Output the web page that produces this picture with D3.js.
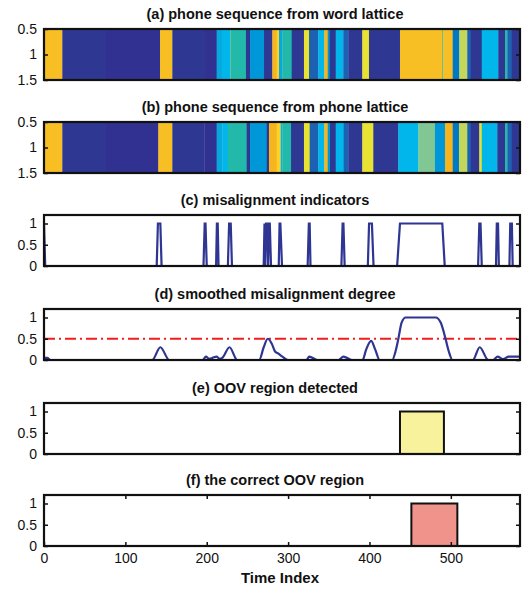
<!DOCTYPE html>
<html>
<head>
<meta charset="utf-8">
<script src="https://d3js.org/d3.v7.min.js"></script>
<style>
  html, body { margin: 0; padding: 0; background: #fff; }
  svg { display: block; font-family: "Liberation Sans", Arial, Helvetica, sans-serif; }
  .title { font-weight: bold; font-size: 14.5px; fill: #111; }
  .tick text { font-size: 14px; fill: #111; }
  .tick line { stroke: #111; stroke-width: 1.5; }
  .frame { fill: none; stroke: #111; stroke-width: 2.2; }
</style>
</head>
<body>
<svg id="chart" width="531" height="589"></svg>
<script>
/* OOV detection figure: two phone sequences, misalignment, smoothing, detection. */
(function () {
  "use strict";

  // ---- data (time index units) ----
  var T_MAX = 585;
  var timeTicks = [0, 100, 200, 300, 400, 500];

  // phone colour codes (parula-like)
  var phoneIds = ["DB", "DB2", "CY2", "CY", "TL", "MB", "Y", "YO", "OR", "YL", "BL2", "B3", "LM", "LG"];
  var phoneColors = ["#2e3893", "#303191", "#08a8dc", "#00b6ea", "#23b9aa", "#0097d8", "#f7bf24", "#fbd22c", "#f6b51f", "#e8e232", "#1d62b2", "#0078c6", "#c3d85a", "#80c794"];

  // (a) phone sequence from word lattice: boundaries + phone of each segment
  var wordBounds = [0, 22.5, 75, 142.6, 157.7, 197.9, 212.2, 218.4, 228.6, 229.4, 248.2, 253.2, 270.4, 280.6, 286.0, 288.8, 292.9, 304.4, 319.5, 325.7, 337.1, 344.5, 348.7, 351.1, 358.5, 367.8, 374.0, 391.2, 399.4, 437.5, 489.5, 490.4, 502.3, 510.4, 520.2, 524.4, 538.0, 558.3, 566.6, 569.4, 574.8, 585];
  var wordPhones = ["Y", "DB", "DB2", "Y", "DB", "DB2", "CY2", "CY", "LG", "TL", "DB", "MB", "DB", "OR", "YO", "CY2", "TL", "DB", "YL", "BL2", "CY", "OR", "MB", "DB", "CY", "BL2", "DB", "YL", "DB", "Y", "TL", "Y", "B3", "LM", "BL2", "DB", "CY", "DB", "TL", "BL2", "DB"];

  // (b) phone sequence from phone lattice
  var phoneBounds = [0, 22.5, 75, 140.5, 157.7, 197, 212.2, 219.1, 225.8, 249.1, 253.2, 273.7, 276.5, 286, 290.9, 292.9, 303.6, 319.5, 326.5, 337.1, 344.5, 348.7, 351.5, 358.5, 368.3, 374, 391.2, 404.7, 435.4, 460, 480.5, 492.8, 502.3, 510, 520.2, 524.4, 535, 538, 557.1, 566.6, 569.4, 574.8, 585];
  var phonePhones = ["Y", "DB", "DB2", "Y", "DB", "DB2", "CY2", "CY", "TL", "DB", "MB", "DB", "OR", "YO", "CY", "TL", "DB", "YL", "BL2", "CY", "OR", "MB", "DB", "CY", "BL2", "DB", "YL", "DB", "CY", "LG", "MB", "OR", "B3", "LM", "BL2", "DB", "YL", "CY", "DB", "TL", "BL2", "DB"];

  // (c) misalignment indicators (vertices)
  var indT = [0, 1.5, 138.5, 140, 143, 144.5, 196, 197.5, 198.5, 200, 211.5, 212.5, 213.5, 214.5, 226, 227.5, 229.5, 231,
    270, 271, 272, 273, 274.5, 275.5, 276.5, 277.5, 279, 288.5, 289.5, 290.5, 292.5, 324, 325.5, 326.5, 327.5,
    365.5, 367, 368, 369.5, 398, 399.5, 403, 405, 434, 437.5, 489.5, 492.5, 533.5, 535, 536.5, 538,
    555.5, 556.5, 558, 559, 572, 573, 575, 576, 585];
  var indV = [1, 0, 0, 1, 1, 0, 0, 1, 1, 0, 0, 1, 1, 0, 0, 1, 1, 0,
    0, 1, 0, 1, 1, 0, 1, 1, 0, 0, 1, 1, 0, 0, 1, 1, 0,
    0, 1, 1, 0, 0, 1, 1, 0, 0, 1, 1, 0, 0, 1, 1, 0,
    0, 1, 1, 0, 0, 1, 1, 0, 0];

  // (d) smoothed misalignment degree
  var smT = [0, 4, 8, 133, 143, 154, 195, 199, 203, 207, 212, 216, 219, 228, 237.5, 264.5, 270, 275, 280, 284, 288, 293, 300,
    322.5, 326, 336, 362, 368, 378.5, 391.5, 396, 402, 407, 412.5, 428, 432, 435.5, 439.5, 444.5, 481.5, 487.5, 493.5, 497.5, 502,
    527, 535.5, 546, 552, 557.5, 564, 566, 571, 585];
  var smV = [0.05, 0.05, 0, 0, 0.3, 0, 0, 0.08, 0.03, 0.05, 0.08, 0.03, 0.05, 0.3, 0, 0, 0.3, 0.5, 0.38, 0.2, 0.15, 0.08, 0,
    0, 0.08, 0, 0, 0.08, 0, 0, 0.25, 0.45, 0.25, 0, 0, 0.2, 0.5, 0.88, 1, 1, 0.88, 0.5, 0.2, 0,
    0, 0.3, 0, 0, 0.08, 0.02, 0.03, 0.08, 0.08];
  var threshold = 0.5;

  // (e) detected and (f) correct OOV regions
  var detected = [437.5, 491.5];
  var correct = [451.5, 508];

  var titles = ["(a) phone sequence from word lattice", "(b) phone sequence from phone lattice",
    "(c) misalignment  indicators", "(d) smoothed misalignment degree",
    "(e) OOV region detected", "(f) the correct OOV region"];

  // ---- layout ----
  var L = 44, R = 520, PH = 51, TX = 275;
  var tops = [29, 122, 215, 309, 403, 495];
  var svg = d3.select("#chart");
  var x = d3.scaleLinear().domain([0, T_MAX]).range([L, R]);
  var color = d3.scaleOrdinal().domain(phoneIds).range(phoneColors);
  var lineBlue = "#2e3592";

  tops.forEach(function (top, i) {
    var g = svg.append("g");
    var img = i < 2;
    var y = img ? d3.scaleLinear().domain([0.5, 1.5]).range([top, top + PH])
                : d3.scaleLinear().domain([0, 1.2]).range([top + PH, top]);

    var clipId = "clip" + i;
    svg.append("clipPath").attr("id", clipId).append("rect")
      .attr("x", L).attr("y", top).attr("width", R - L).attr("height", PH);
    var body = g.append("g").attr("clip-path", "url(#" + clipId + ")");

    if (img) {
      var bounds = i === 0 ? wordBounds : phoneBounds, ph = i === 0 ? wordPhones : phonePhones;
      body.selectAll("rect").data(ph).enter().append("rect")
        .attr("x", function (d, k) { return x(bounds[k]); })
        .attr("width", function (d, k) { return x(bounds[k + 1]) - x(bounds[k]) + 0.3; })
        .attr("y", y(0.5)).attr("height", y(1.5) - y(0.5))
        .attr("fill", function (d) { return color(d); });
    } else if (i === 2) {
      body.append("path").datum(d3.range(indT.length))
        .attr("fill", "none").attr("stroke", lineBlue).attr("stroke-width", 2.2)
        .attr("d", d3.line().x(function (k) { return x(indT[k]); }).y(function (k) { return y(indV[k]); }));
    } else if (i === 3) {
      body.append("line").attr("x1", L).attr("x2", R).attr("y1", y(threshold)).attr("y2", y(threshold))
        .attr("stroke", "#f01e1e").attr("stroke-width", 2).attr("stroke-dasharray", "11,4,2,4");
      body.append("path").datum(d3.range(smT.length))
        .attr("fill", "none").attr("stroke", lineBlue).attr("stroke-width", 2.2)
        .attr("d", d3.line().curve(d3.curveMonotoneX)
          .x(function (k) { return x(smT[k]); }).y(function (k) { return y(smV[k]); }));
    } else {
      var reg = i === 4 ? detected : correct;
      body.append("rect").attr("x", x(reg[0])).attr("width", x(reg[1]) - x(reg[0]))
        .attr("y", y(1)).attr("height", y(0) - y(1))
        .attr("fill", i === 4 ? "#f7f29b" : "#f0938b").attr("stroke", "#111").attr("stroke-width", 2);
    }

    // y ticks, inward, on both sides
    var yt = img ? [0.5, 1, 1.5] : [0, 0.5, 1];
    var ya = g.append("g").attr("transform", "translate(" + L + ",0)")
      .call(d3.axisLeft(y).tickValues(yt).tickSize(-4).tickPadding(7).tickFormat(d3.format("")));
    ya.select(".domain").remove();
    var yr = g.append("g").attr("transform", "translate(" + R + ",0)")
      .call(d3.axisRight(y).tickValues(yt).tickSize(-4).tickFormat(""));
    yr.select(".domain").remove();

    if (i === 5) {
      var xb = g.append("g").attr("transform", "translate(0," + (top + PH) + ")")
        .call(d3.axisBottom(x).tickValues(timeTicks).tickSize(-4).tickPadding(7));
      xb.select(".domain").remove();
      var xt = g.append("g").attr("transform", "translate(0," + top + ")")
        .call(d3.axisTop(x).tickValues(timeTicks).tickSize(-4).tickFormat(""));
      xt.select(".domain").remove();
      g.append("text").attr("class", "title").attr("x", (L + R) / 2 - 2).attr("y", 583)
        .attr("text-anchor", "middle").style("font-size", "15px").text("Time Index");
    }

    g.append("rect").attr("class", "frame").attr("x", L).attr("y", top).attr("width", R - L).attr("height", PH);
    g.append("text").attr("class", "title").attr("x", TX).attr("y", top - 10)
      .attr("text-anchor", "middle").text(titles[i]);
  });

  svg.selectAll(".tick text").style("font-size", "14px");
})();
</script>
</body>
</html>
